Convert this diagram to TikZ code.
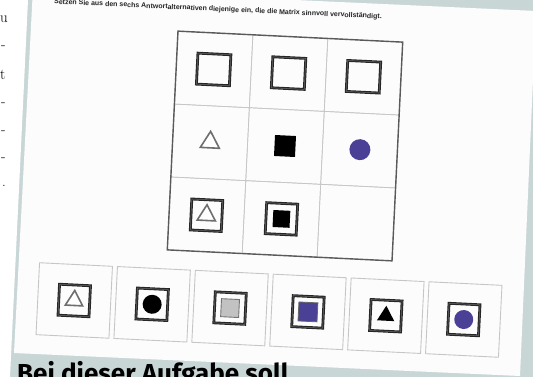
\documentclass[tikz,border=0pt]{standalone}
\usepackage{fontspec}
\usetikzlibrary{shapes.geometric}
\newfontfamily\headfont{Fira Sans}
\newfontfamily\topfont{Liberation Sans}
\definecolor{panel}{HTML}{C9D6D6}
\definecolor{paper}{HTML}{FCFCFC}
\definecolor{cellline}{HTML}{C6C6C6}
\definecolor{gridline}{HTML}{5A5A5A}
\definecolor{framec}{HTML}{262626}
\definecolor{framein}{HTML}{6A6A6A}
\definecolor{trigray}{HTML}{6E6E6E}
\definecolor{symblue}{RGB}{74,64,150}
\definecolor{lightsq}{HTML}{C2C2C2}
\tikzset{
  cell/.style={draw=cellline, line width=0.7, minimum width=75, minimum height=73, inner sep=0, transform shape},
  gridframe/.style={draw=gridline, line width=1.4, minimum width=225, minimum height=219, inner sep=0, transform shape},
  abox/.style={draw=cellline, line width=0.9, minimum width=73, minimum height=72, inner sep=0, transform shape},
  frm/.style={draw=framec, double=framein, line width=1.15, double distance=0.5, minimum size=31, inner sep=0, transform shape},
  bigsq/.style={frm, minimum width=33, minimum height=31},
  tri/.style={regular polygon, regular polygon sides=3, minimum size=22, inner sep=0, transform shape},
  trio/.style={tri, draw=trigray, line width=1.6, fill=white},
  trib/.style={tri, fill=black, minimum size=21},
  dot/.style={circle, minimum size=21, inner sep=0, transform shape},
  sq/.style={rectangle, minimum size=#1, inner sep=0, transform shape},
  margin/.style={font=\fontsize{15}{15}\selectfont, anchor=base west, inner sep=0}
}
\begin{document}
\begin{tikzpicture}[x=1pt,y=-1pt]
\useasboundingbox (0,0) rectangle (533,377);
\clip (0,0) rectangle (533,377);
\fill[panel] (0,0) rectangle (533,377);
\fill[white] (0,0) -- (28,0) -- (10,377) -- (0,377) -- cycle;
\fill[paper] (33,-12) -- (536,11) -- (520,376) -- (14,353) -- cycle;

% margin text of the neighbouring column
\node[margin] (m1) at (0,23) {u};
\node[margin] (m2) at (1,50) {-};
\node[margin] (m3) at (0,80) {t};
\node[margin] (m4) at (1,107) {-};
\node[margin] (m5) at (1,135) {-};
\node[margin] (m6) at (1,162) {-};
\node[margin] (m7) at (2,186) {.};

% heading line on the page
\begin{scope}[shift={(218,9.5)}, rotate=-2.6]
\node[transform shape, inner sep=0, font=\topfont\bfseries\fontsize{7}{7}\selectfont, text=black!85] (head) at (0,0)
  {Setzen Sie aus den sechs Antwortalternativen diejenige ein, die die Matrix sinnvoll vervollständigt.};
\end{scope}

% matrix
\begin{scope}[shift={(285,146)}, rotate=-2.8]
\foreach \r/\yy in {1/-73,2/0,3/73}{
  \foreach \c/\xx in {1/-75,2/0,3/75}{
    \node[cell] (c\r\c) at (\xx,\yy) {};
  }
}
\node[gridframe] (G) at (0,0) {};
\node[bigsq] (s11) at (c11) {};
\node[bigsq] (s12) at (c12) {};
\node[bigsq] (s13) at (c13) {};
\node[trio] (s21) at (c21) {};
\node[sq=21, fill=black] (s22) at (c22) {};
\node[dot, fill=symblue] (s23) at (c23) {};
\node[frm] (f31) at (c31) {};
\node[trio, minimum size=21] (s31) at (c31) {};
\node[frm] (f32) at (c32) {};
\node[sq=17, fill=black] (s32) at (c32) {};
\end{scope}

% answer alternatives
\begin{scope}[shift={(269,310)}, rotate=-2.8]
\foreach \k/\xx in {1/-195,2/-117,3/-39,4/39,5/117,6/195}{
  \node[abox] (a\k) at (\xx,0) {};
  \node[frm] (f\k) at (a\k) {};
}
\node[trio, minimum size=20] (i1) at (a1) {};
\node[dot, fill=black, minimum size=19] (i2) at (a2) {};
\node[sq=18, fill=lightsq, draw=black!55, line width=0.9] (i3) at (a3) {};
\node[sq=19, fill=symblue, draw=black!60, line width=0.8] (i4) at (a4) {};
\node[trib, minimum size=20] (i5) at (a5) {};
\node[dot, fill=symblue, minimum size=19] (i6) at (a6) {};
\end{scope}

% caption below the photographed page
\node[anchor=base west, inner sep=0, font=\headfont\bfseries\fontsize{26}{26}\selectfont] (cap) at (17,382) {Bei dieser Aufgabe soll};
\end{tikzpicture}
\end{document}
